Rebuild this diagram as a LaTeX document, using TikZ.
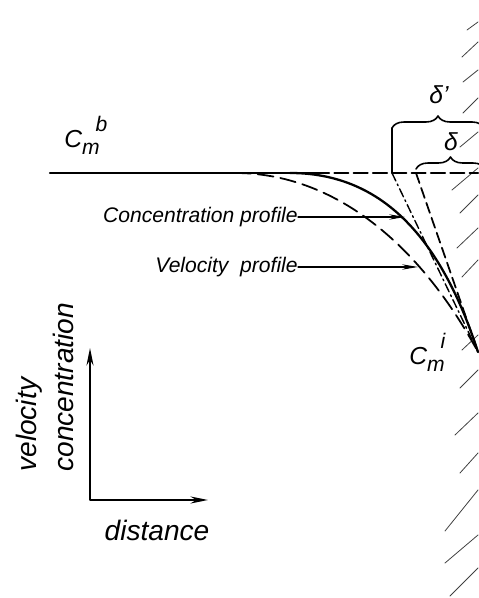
\documentclass[tikz,border=0pt]{standalone}
\usepackage{fontspec}
\setmainfont{Liberation Sans}
\usetikzlibrary{arrows.meta,decorations.pathreplacing}

\newcommand{\cmlabel}[1]{C\makebox[0pt][l]{\raisebox{-0.5ex}{\fontsize{12}{12}\selectfont m}}\hspace{0.55em}\raisebox{1.3ex}{\fontsize{12}{12}\selectfont #1}}

\begin{document}
\begin{tikzpicture}[x=0.02cm, y=0.02cm, >={Stealth[length=9pt,width=3pt]}, line cap=round, line join=round, font=\itshape,
  hatch/.style={line width=0.45pt, black!75},
  smalltext/.style={inner sep=0pt, font=\itshape\fontsize{12}{14}\selectfont},
  bigtext/.style={inner sep=0pt, font=\itshape\fontsize{16}{18}\selectfont},
  dimbrace/.style={line width=0.9pt, decorate, decoration={brace, amplitude=0.24cm}}]

\useasboundingbox (0,0) rectangle (478,598);

% wall
\foreach \xa/\ya/\yb in {467/568/576, 462/541/556, 463/516/528, 463/485/500, 460/451/466, 452/408/430, 460/385/403, 457/350/370, 462/321/338, 462/248/263, 460/210/228, 455/163/185, 460/125/145, 445/67/108, 445/35/63, 450/2/30}
  \draw[hatch] (\xa,\ya) -- (478,\yb);

\coordinate (bstart) at (50,425);
\coordinate (bsplit) at (315,425);
\coordinate (wallb) at (478,425);
\coordinate (ci) at (478,246);
\coordinate (dp) at (392,425);
\coordinate (dd) at (416,425);

\draw[line width=1.2pt] (bstart) -- (bsplit);
\draw[line width=1.2pt, dash pattern=on 8pt off 3pt] (bsplit) -- (wallb);

% profiles
\draw[line width=1.3pt] (290,425) .. controls (380,425) and (440,363) .. (ci);
\draw[line width=1pt, dash pattern=on 9pt off 4pt] (235,425) .. controls (335,425) and (420,353) .. (ci);
\draw[line width=0.8pt, dash pattern=on 5pt off 2pt on 1pt off 2pt] (dp) -- (ci);
\draw[line width=1pt, dash pattern=on 6pt off 3pt] (dd) -- (ci);

% thicknesses
\draw[line width=0.9pt] (dp) -- (392,470);
\draw[dimbrace] (392,470) -- (484,470);
\draw[dimbrace] (dd) ++(0,4) -- (485,429);
\node[font=\itshape\fontsize{14}{16}\selectfont] (dpl) at (439,503) {δ'};
\node[font=\itshape\fontsize{14}{16}\selectfont] (ddl) at (451,456) {δ};

\node[font=\itshape\fontsize{14}{16}\selectfont, inner sep=0pt, anchor=base west] (cmb) at (64,450) {\cmlabel{b}};
\node[font=\itshape\fontsize{14}{16}\selectfont, inner sep=0pt, anchor=base west] (cmi) at (409,233) {\cmlabel{i}};

\node[smalltext, anchor=east] (conc) at (298,381) {Concentration profile};
\node[smalltext, anchor=east] (velo) at (298,331) {Velocity\ \ profile};
\coordinate (concpt) at (405,381);
\coordinate (velopt) at (418,331);
\draw[->, line width=0.6pt] (conc) -- (concpt);
\draw[->, line width=0.6pt] (velo) -- (velopt);

% axes
\coordinate (org) at (90,98);
\coordinate (ytip) at (90,250);
\coordinate (xtip) at (208,98);
\draw[<->, line width=1pt, >={Stealth[length=10pt,width=4pt]}] (ytip) -- (org) -- (xtip);
\node[bigtext] (dist) at (157,68) {distance};
\node[bigtext, rotate=90, anchor=west] (vel) at (29,126) {velocity};
\node[bigtext, rotate=90, anchor=west] (con) at (63,126) {concentration};

\end{tikzpicture}
\end{document}
